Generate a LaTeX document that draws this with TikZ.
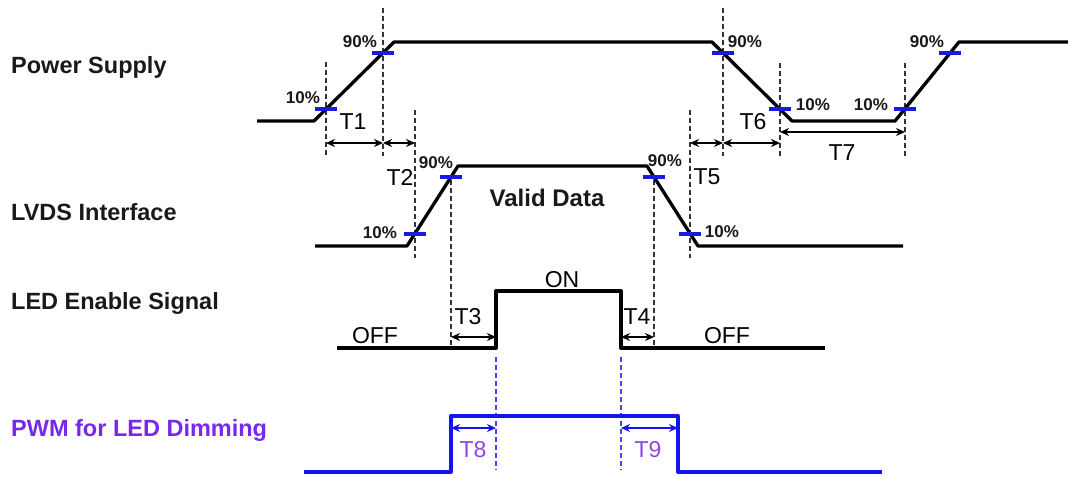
\documentclass[tikz,border=0pt]{standalone}
\usepackage{fontspec}
\setmainfont{Liberation Sans}
\usetikzlibrary{arrows.meta,calc}
\definecolor{tickblue}{RGB}{25,25,225}
\definecolor{pwmblue}{RGB}{20,20,240}
\definecolor{pwmtext}{RGB}{120,40,235}
\definecolor{tpurple}{RGB}{140,70,230}
\tikzset{
  sig/.style={line width=3.3pt, line join=round, line cap=butt},
  pwmline/.style={line width=3.3pt, pwmblue, line join=round},
  tickmark/.style={line width=3.5pt, tickblue},
  guide/.style={line width=1.3pt, dash pattern=on 5pt off 3pt, black!80},
  bguide/.style={line width=1.3pt, dash pattern=on 5pt off 3pt, pwmblue!80},
  dim/.style={line width=1.7pt, {Stealth[length=9pt,width=8pt]}-{Stealth[length=9pt,width=8pt]}},
  lbl/.style={font=\fontsize{23.5}{26}\selectfont\bfseries, anchor=west, inner sep=0pt, text=black!90},
  pct/.style={font=\fontsize{17}{19}\selectfont\bfseries, inner sep=0pt, text=black!90},
  tl/.style={font=\fontsize{23}{25}\selectfont, inner sep=0pt, text=black},
}
\begin{document}
\begin{tikzpicture}[x=1pt,y=-1pt]
\useasboundingbox (0,0) rectangle (1068,477);

% ---------- signal vertices ----------
% Power supply
\coordinate (P0) at (257,121);
\coordinate (P1) at (314,121);
\coordinate (P2) at (394,42);
\coordinate (P3) at (712,42);
\coordinate (P4) at (792,121);
\coordinate (P5) at (895,121);
\coordinate (P6) at (959,42);
\coordinate (P7) at (1068,42);
% LVDS
\coordinate (L0) at (315,246);
\coordinate (L1) at (407,246);
\coordinate (L2) at (458,166);
\coordinate (L3) at (647,166);
\coordinate (L4) at (698,246);
\coordinate (L5) at (903,246);
% LED enable
\coordinate (E0) at (337,348);
\coordinate (E1) at (496,348);
\coordinate (E2) at (496,291);
\coordinate (E3) at (621,291);
\coordinate (E4) at (621,348);
\coordinate (E5) at (825,348);
% PWM
\coordinate (W0) at (304,472);
\coordinate (W1) at (451,472);
\coordinate (W2) at (451,416);
\coordinate (W3) at (678,416);
\coordinate (W4) at (678,472);
\coordinate (W5) at (882,472);

% ---------- 10% / 90% points ----------
\coordinate (pa) at (326,109);
\coordinate (pb) at (383,53);
\coordinate (pc) at (723,53);
\coordinate (pd) at (780,109);
\coordinate (pe) at (905,109);
\coordinate (pf) at (950,53);
\coordinate (la) at (415,234);
\coordinate (lb) at (451,177);
\coordinate (lc) at (654,177);
\coordinate (ld) at (690,234);

% ---------- dashed guides ----------
\draw[guide] (pa |- 0,62) -- (pa |- 0,156);
\draw[guide] (pb |- 0,8) -- (pb |- 0,156);
\draw[guide] (la |- 0,110) -- (la |- 0,258);
\draw[guide] (lb |- 0,180) -- (lb |- 0,348);
\draw[guide] (lc |- 0,180) -- (lc |- 0,348);
\draw[guide] (ld |- 0,110) -- (ld |- 0,258);
\draw[guide] (pc |- 0,8) -- (pc |- 0,156);
\draw[guide] (pd |- 0,63) -- (pd |- 0,156);
\draw[guide] (pe |- 0,63) -- (pe |- 0,156);
\draw[bguide] (E1 |- 0,357) -- (E1 |- 0,470);
\draw[bguide] (E4 |- 0,357) -- (E4 |- 0,470);

% ---------- waveforms ----------
\draw[sig] (P0) -- (P1) -- (P2) -- (P3) -- (P4) -- (P5) -- (P6) -- (P7);
\draw[sig] (L0) -- (L1) -- (L2) -- (L3) -- (L4) -- (L5);
\draw[sig] (E0) -- (E1) -- (E2) -- (E3) -- (E4) -- (E5);
\draw[pwmline] (W0) -- (W1) -- (W2) -- (W3) -- (W4) -- (W5);

% ---------- ticks ----------
\foreach \p in {pa,pb,pc,pd,pe,pf,la,lb,lc,ld}
  \draw[tickmark] (\p) ++(-11,0) -- ++(22,0);

% ---------- timing arrows ----------
\draw[dim] (pa |- 0,143) -- (pb |- 0,143);
\draw[dim] (pb |- 0,143) -- (la |- 0,143);
\draw[dim] (ld |- 0,143) -- (pc |- 0,143);
\draw[dim] (pc |- 0,143) -- (pd |- 0,143);
\draw[dim] (pd |- 0,132) -- (pe |- 0,132);
\draw[dim] (lb |- 0,337) -- (E1 |- 0,337);
\draw[dim] (E4 |- 0,337) -- (lc |- 0,337);
\draw[dim, pwmblue] (W1 |- 0,428) -- (E1 |- 0,428);
\draw[dim, pwmblue] (E4 |- 0,428) -- (W3 |- 0,428);

% ---------- signal names ----------
\node[lbl] (nPS) at (11,67) {Power Supply};
\node[lbl] (nLV) at (11,212) {LVDS Interface};
\node[lbl] (nLE) at (11,303) {LED Enable Signal};
\node[lbl, text=pwmtext] (nPW) at (11,430) {PWM for LED Dimming};

% ---------- percent labels ----------
\node[pct] (q1) at (303,98) {10\%};
\node[pct] (q2) at (360,42) {90\%};
\node[pct] (q3) at (745,42) {90\%};
\node[pct] (q4) at (813,105) {10\%};
\node[pct] (q5) at (871,105) {10\%};
\node[pct] (q6) at (927,42) {90\%};
\node[pct] (q7) at (380,233) {10\%};
\node[pct] (q8) at (436,163) {90\%};
\node[pct] (q9) at (665,161) {90\%};
\node[pct] (q10) at (722,232) {10\%};

% ---------- time labels ----------
\node[tl] (T1) at (353,122) {T1};
\node[tl] (T2) at (400,177) {T2};
\node[tl] (T5) at (707,177) {T5};
\node[tl] (T6) at (753,122) {T6};
\node[tl] (T7) at (842,153) {T7};
\node[tl] (T3) at (468,317) {T3};
\node[tl] (T4) at (637,317) {T4};
\node[tl, text=tpurple] (T8) at (473,450) {T8};
\node[tl, text=tpurple] (T9) at (648,450) {T9};

% ---------- state labels ----------
\node[font=\fontsize{24}{26}\selectfont\bfseries, inner sep=0pt, text=black!90] (VD) at (547,198) {Valid Data};
\node[tl] (ON) at (562,280) {ON};
\node[tl] (OFF1) at (375,336) {OFF};
\node[tl] (OFF2) at (727,336) {OFF};
\end{tikzpicture}
\end{document}
